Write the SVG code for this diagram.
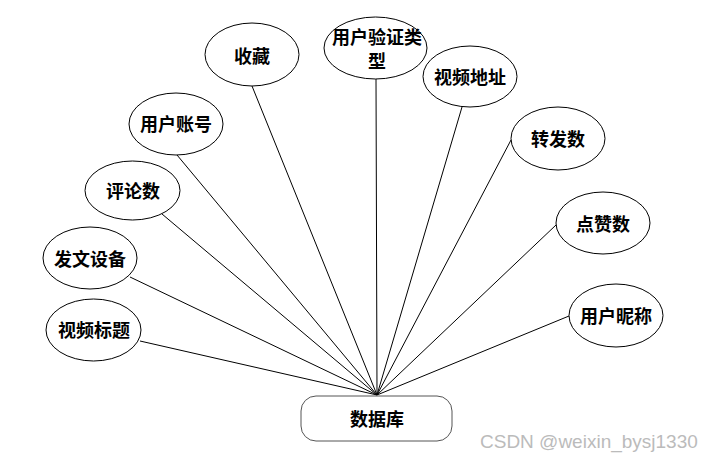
<svg xmlns="http://www.w3.org/2000/svg" width="712" height="461" viewBox="0 0 712 461">
<style>
.n ellipse{fill:#fff;stroke:#000;stroke-width:1}
.n rect{fill:#fff;stroke:#555;stroke-width:1}
.n text{font-family:"Noto Sans CJK SC",sans-serif;font-size:18px;font-weight:bold;fill:#000;text-anchor:middle;dominant-baseline:central}
#links line{stroke:#000;stroke-width:1}
.wm{font-family:"Liberation Sans",Arial,sans-serif;font-size:19px;fill:#bbb}
</style>
<rect width="712" height="461" fill="#fff"/>
<g id="links">
<line x1="252" y1="86" x2="377" y2="395"/>
<line x1="177" y1="155" x2="377" y2="395"/>
<line x1="162" y1="214" x2="377" y2="395"/>
<line x1="130" y1="277" x2="377" y2="395"/>
<line x1="140" y1="341" x2="377" y2="395"/>
<line x1="376" y1="79" x2="377" y2="395"/>
<line x1="462" y1="107" x2="377" y2="395"/>
<line x1="511" y1="140" x2="377" y2="395"/>
<line x1="556" y1="225" x2="377" y2="395"/>
<line x1="569" y1="316" x2="377" y2="395"/>
</g>
<g id="n-shoucang" class="n"><ellipse cx="252" cy="54.5" rx="47" ry="31.5"/><text x="252" y="55">收藏</text></g>
<g id="n-zhanghao" class="n"><ellipse cx="176" cy="124" rx="47" ry="31"/><text x="176" y="123">用户账号</text></g>
<g id="n-pinglun" class="n"><ellipse cx="132.5" cy="190.5" rx="47.5" ry="29.5"/><text x="133" y="190">评论数</text></g>
<g id="n-shebei" class="n"><ellipse cx="90" cy="258" rx="47" ry="31"/><text x="90" y="258">发文设备</text></g>
<g id="n-biaoti" class="n"><ellipse cx="93.5" cy="330" rx="47.5" ry="31"/><text x="94" y="329">视频标题</text></g>
<g id="n-yanzheng" class="n"><ellipse cx="375.5" cy="48" rx="51.5" ry="31"/><text x="377" y="36">用户验证类</text><text x="377" y="60">型</text></g>
<g id="n-dizhi" class="n"><ellipse cx="470" cy="76.5" rx="47" ry="30.5"/><text x="470" y="76">视频地址</text></g>
<g id="n-zhuanfa" class="n"><ellipse cx="558" cy="138.5" rx="47" ry="31.5"/><text x="558" y="138">转发数</text></g>
<g id="n-dianzan" class="n"><ellipse cx="603" cy="223" rx="47" ry="31"/><text x="603" y="223">点赞数</text></g>
<g id="n-nicheng" class="n"><ellipse cx="616" cy="315.5" rx="47" ry="31.5"/><text x="616" y="315">用户昵称</text></g>
<g id="n-db" class="n"><rect x="301" y="396" width="151" height="45" rx="15" ry="15"/><text x="377" y="418">数据库</text></g>
<text class="wm" x="480" y="448">CSDN @weixin_bysj1330</text>
</svg>
